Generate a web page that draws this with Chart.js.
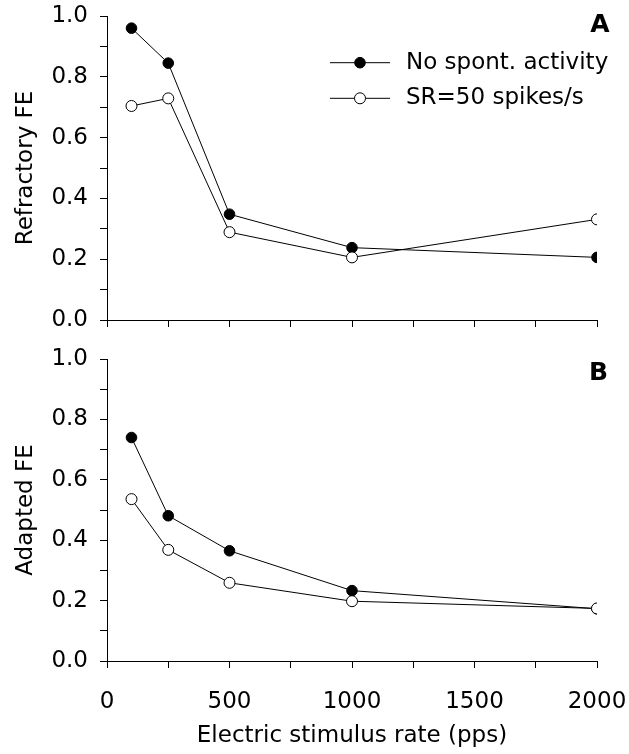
<!DOCTYPE html>
<html>
<head>
<meta charset="utf-8">
<script src="https://cdn.jsdelivr.net/npm/chart.js@4/dist/chart.umd.min.js"></script>
<style>
  body { margin: 0; background: #fff; }
  canvas { position: absolute; left: 0; }
  #panelA { top: 0; }
  #panelB { top: 340px; }
</style>
</head>
<body>
<canvas id="panelA" width="629" height="340"></canvas>
<canvas id="panelB" width="629" height="414"></canvas>
<script>
// stimulus rates (pps)
let rates = [100, 250, 500, 1000, 2000];
let seriesNames = ["No spont. activity", "SR=50 spikes/s"];

// panel A: refractory FE
let refractoryNoSR = [0.96, 0.845, 0.348, 0.238, 0.206];
let refractorySR50 = [0.704, 0.729, 0.289, 0.206, 0.331];

// panel B: adapted FE
let adaptedNoSR = [0.74, 0.481, 0.365, 0.233, 0.173];
let adaptedSR50 = [0.536, 0.368, 0.259, 0.198, 0.174];

let xTicks = [0, 500, 1000, 1500, 2000];
let yTicks = [0.0, 0.2, 0.4, 0.6, 0.8, 1.0];

Chart.defaults.font.family = "'DejaVu Sans', sans-serif";
Chart.defaults.font.size = 23;
Chart.defaults.color = "#000";

function pts(vals) {
  return rates.map(function (r, i) { return { x: r, y: vals[i] }; });
}

// legend + panel letter, drawn on top of the plot
function panelDecor(letter, lx, ly, withLegend) {
  return {
    id: "decor" + letter,
    afterDatasetsDraw: function (chart) {
      var c = chart.ctx;
      c.save();
      if (withLegend) {
        var rows = [62.7, 98.3];
        chart.data.datasets.forEach(function (ds, i) {
          var y = rows[i];
          c.strokeStyle = "#000";
          c.lineWidth = 1;
          c.beginPath();
          c.moveTo(330, y);
          c.lineTo(390, y);
          c.stroke();
          c.beginPath();
          c.arc(360, y, ds.pointRadius, 0, Math.PI * 2);
          c.fillStyle = ds.pointBackgroundColor;
          c.fill();
          c.stroke();
          c.fillStyle = "#000";
          c.font = "23px 'DejaVu Sans'";
          c.textAlign = "left";
          c.textBaseline = "middle";
          c.fillText(ds.label, 406, y);
        });
      }
      c.fillStyle = "#000";
      c.font = "bold 25px 'DejaVu Sans'";
      c.textAlign = "center";
      c.textBaseline = "middle";
      c.fillText(letter, lx, ly);
      c.restore();
    }
  };
}

function makePanel(id, yTitle, noSR, sr50, letter, padTop, showX, decor) {
  var ctx = document.getElementById(id);
  return new Chart(ctx, {
    type: "line",
    data: {
      datasets: [
        {
          label: seriesNames[0],
          data: pts(noSR),
          borderColor: "#000",
          borderWidth: 1,
          pointRadius: 5.3,
          pointBorderWidth: 1,
          pointBackgroundColor: "#000",
          pointBorderColor: "#000",
          order: 1
        },
        {
          label: seriesNames[1],
          data: pts(sr50),
          borderColor: "#000",
          borderWidth: 1,
          pointRadius: 5.5,
          pointBorderWidth: 1,
          pointBackgroundColor: "#fff",
          pointBorderColor: "#000",
          order: 0
        }
      ]
    },
    options: {
      responsive: false,
      animation: false,
      layout: { padding: { top: padTop, right: 32, left: 0, bottom: 0 } },
      plugins: { legend: { display: false }, tooltip: { enabled: false } },
      scales: {
        x: {
          type: "linear",
          min: 0,
          max: 2000,
          ticks: {
            stepSize: 250,
            display: showX,
            padding: 20,
            maxRotation: 0,
            autoSkip: false,
            callback: function (v) { return xTicks.indexOf(v) >= 0 ? String(v) : ""; }
          },
          grid: { drawOnChartArea: false, drawTicks: true, tickLength: 7, color: "#000", lineWidth: 1 },
          border: { display: true, color: "#000", width: 1 },
          title: { display: showX, text: "Electric stimulus rate (pps)", padding: { top: 0, bottom: 4 } },
          afterFit: function (s) {
            s.height = showX ? 93 : 20;
            s.paddingLeft = 0;
            s.paddingRight = 0;
          }
        },
        y: {
          min: 0,
          max: 1,
          ticks: {
            stepSize: 0.1,
            padding: 12,
            autoSkip: false,
            callback: function (v) {
              var hit = yTicks.find(function (t) { return Math.abs(t - v) < 1e-6; });
              return hit === undefined ? "" : hit.toFixed(1);
            }
          },
          grid: { drawOnChartArea: false, drawTicks: true, tickLength: 7, color: "#000", lineWidth: 1 },
          border: { display: true, color: "#000", width: 1 },
          title: { display: true, text: yTitle, padding: { top: 12, bottom: 0 } },
          afterFit: function (s) {
            s.width = 107;
            s.paddingTop = 0;
            s.paddingBottom = 0;
          }
        }
      }
    },
    plugins: [decor]
  });
}

makePanel("panelA", "Refractory FE", refractoryNoSR, refractorySR50, "A", 16, false,
  panelDecor("A", 600, 25.5, true));
makePanel("panelB", "Adapted FE", adaptedNoSR, adaptedSR50, "B", 19, true,
  panelDecor("B", 598.5, 33.5, false));
</script>
</body>
</html>
